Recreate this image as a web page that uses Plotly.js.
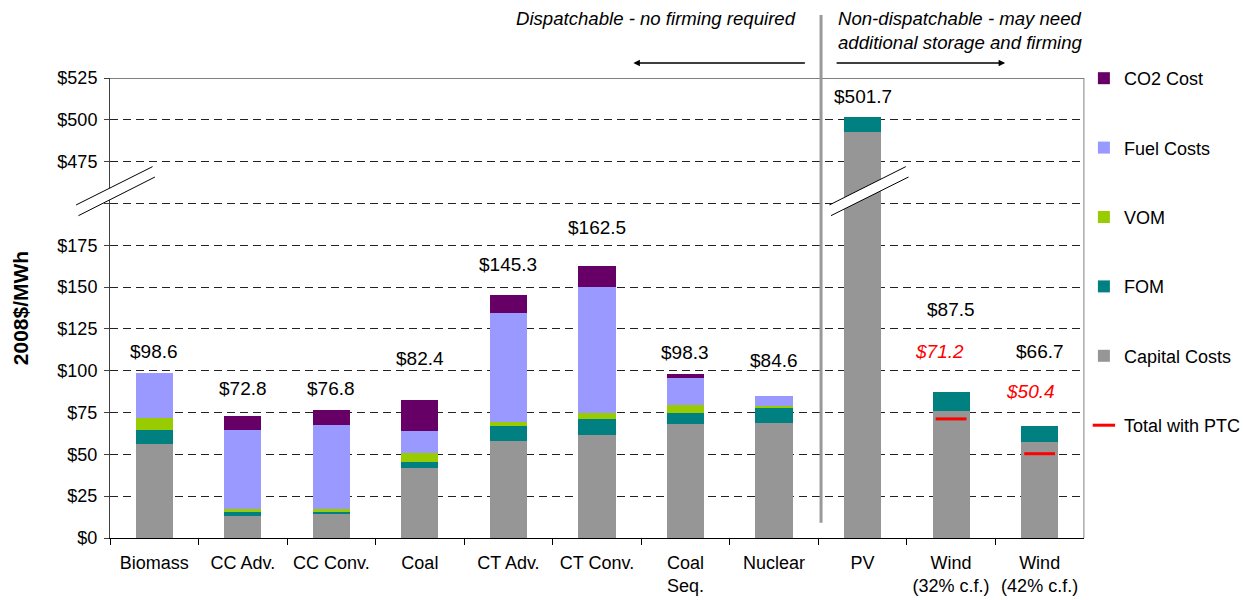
<!DOCTYPE html>
<html>
<head>
<meta charset="utf-8">
<script src="https://cdn.plot.ly/plotly-3.0.1.min.js"></script>
<style>html,body{margin:0;padding:0;background:#fff;}#chart{width:1243px;height:600px;}</style>
</head>
<body>
<div id="chart"></div>
<script>
// ---- data (2008$/MWh) ----
const categories = ["Biomass","CC Adv.","CC Conv.","Coal","CT Adv.","CT Conv.","Coal Seq.","Nuclear","PV","Wind (32% c.f.)","Wind (42% c.f.)"];
const categoryLabels = ["Biomass","CC Adv.","CC Conv.","Coal","CT Adv.","CT Conv.","Coal<br>Seq.","Nuclear","PV","Wind<br>(32% c.f.)","Wind<br>(42% c.f.)"];
const capitalCosts = [56.2, 13.4, 14.2, 42.1, 58.2, 61.6, 68.2, 68.8, 493.0, 76.0, 57.6];
const fomCosts     = [ 8.6,  2.2,  1.4,  3.5,  8.6,  9.4,  6.4,  9.1,   8.7, 11.5,  9.1];
const vomCosts     = [ 7.0,  1.9,  1.7,  5.0,  2.8,  3.6,  4.9,  1.0,   0,    0,    0  ];
const fuelCosts    = [26.8, 47.3, 50.1, 13.4, 64.8, 75.3, 16.2,  5.7,   0,    0,    0  ];
const co2Costs     = [ 0,    8.0,  9.4, 18.4, 10.9, 12.6,  2.6,  0,     0,    0,    0  ];
const totals       = [98.6, 72.8, 76.8, 82.4, 145.3, 162.5, 98.3, 84.6, 501.7, 87.5, 66.7];
const totalWithPTC = [null, null, null, null, null, null, null, null, null, 71.2, 50.4];
const yTickValues  = [0, 25, 50, 75, 100, 125, 150, 175, 475, 500, 525];

// ---- broken axis: values between 200 and 450 are cut out ----
const BREAK_LO = 200, BREAK_HI = 450, CUT = BREAK_HI - BREAK_LO;
const toDisp = v => (v == null ? null : (v >= BREAK_HI ? v - CUT : v));
const capitalDisp = capitalCosts.map(toDisp);

const FONT = "Liberation Sans, Arial, sans-serif";
const gridVals = [];
const gridText = [];
yTickValues.forEach(v => {
  if (v === 475) { gridVals.push(BREAK_LO); gridText.push(""); }
  gridVals.push(toDisp(v)); gridText.push("$" + v);
});

const barW = 0.42;
function barTrace(name, vals, color, rank) {
  return {type: "bar", name: name, x: categories, y: vals, width: barW,
    marker: {color: color, line: {width: 0}}, legendgroup: name, legendrank: rank,
    hoverinfo: "name+y"};
}
const traces = [
  barTrace("Capital Costs", capitalDisp, "#969696", 5),
  barTrace("FOM", fomCosts, "#008080", 4),
  barTrace("VOM", vomCosts, "#99CC00", 3),
  barTrace("Fuel Costs", fuelCosts, "#9999FF", 2),
  barTrace("CO2 Cost", co2Costs, "#660066", 1),
  {type: "scatter", mode: "markers", name: "Total with PTC", x: categories, y: totalWithPTC,
   marker: {symbol: "line-ew", size: 22, color: "#FF0000", line: {color: "#FF0000", width: 3}},
   legendgroup: "ptc", legendrank: 6}
];

// value labels
const labelShift = [22, 28, 21, 42, 30, 39, 21, 36, 20, 82, 75];
const annotations = categories.map((c, i) => ({
  x: c, y: toDisp(totals[i]), xref: "x", yref: "y", yanchor: "middle", yshift: labelShift[i],
  text: "$" + totals[i].toFixed(1), showarrow: false, font: {family: FONT, size: 19, color: "#000"}
}));
const ptcShift = [[-12, 67], [-9, 62]];
let k = 0;
categories.forEach((c, i) => {
  if (totalWithPTC[i] != null) {
    annotations.push({x: c, y: totalWithPTC[i], xref: "x", yref: "y", yanchor: "middle",
      xshift: ptcShift[k][0], yshift: ptcShift[k][1], showarrow: false,
      text: "<i>$" + totalWithPTC[i].toFixed(1) + "</i>", font: {family: FONT, size: 19, color: "#FF0000"}});
    k++;
  }
});
// header notes
annotations.push({xref: "paper", yref: "paper", x: 0.7062, y: 1.1304, xanchor: "right", yanchor: "middle",
  text: "<i>Dispatchable - no firming required</i>", showarrow: false, font: {family: FONT, size: 18.6, color: "#000"}});
annotations.push({xref: "paper", yref: "paper", x: 0.7451, y: 1.1043, xanchor: "left", yanchor: "middle", align: "left",
  text: "<i>Non-dispatchable - may need<br>additional storage and firming</i>", showarrow: false, font: {family: FONT, size: 18.6, color: "#000"}});
annotations.push({xref: "paper", yref: "paper", x: 0.5374, y: 1.0326, ax: 173, ay: 0, text: "",
  showarrow: true, arrowhead: 2, arrowsize: 1, arrowwidth: 1.3, arrowcolor: "#000"});
annotations.push({xref: "paper", yref: "paper", x: 0.9191, y: 1.0326, ax: -170, ay: 0, text: "",
  showarrow: true, arrowhead: 2, arrowsize: 1, arrowwidth: 1.3, arrowcolor: "#000"});

// axis-break marks
function breakMark(x0, x1, x2, x3) {
  // parallelogram: UL, UR, LR, LL (x in paper, y in axis units)
  const ys = [199.1, 222.0, 215.8, 192.7];
  return [
    {type: "path", xref: "paper", yref: "y", layer: "above",
     path: `M${x0},${ys[0]} L${x1},${ys[1]} L${x2},${ys[2]} L${x3},${ys[3]} Z`,
     fillcolor: "#FFFFFF", line: {width: 0}},
    {type: "line", xref: "paper", yref: "y", x0: x0, y0: ys[0], x1: x1, y1: ys[1], line: {color: "#000", width: 1}},
    {type: "line", xref: "paper", yref: "y", x0: x3, y0: ys[3], x1: x2, y1: ys[2], line: {color: "#000", width: 1}}
  ];
}
const shapes = [
  {type: "line", xref: "paper", yref: "y", x0: 0, x1: 1, y0: 275, y1: 275, line: {color: "#000", width: 1}},
  {type: "line", xref: "paper", yref: "y", x0: 1, x1: 1, y0: 0, y1: 275, line: {color: "#808080", width: 1}},
  ...breakMark(-0.0348, 0.0437, 0.0461, -0.0324),
  ...breakMark(0.7387, 0.8171, 0.8199, 0.7403),
  {type: "line", xref: "paper", yref: "paper", x0: 0.7301, x1: 0.7301, y0: 0.0333, y1: 1.137,
   line: {color: "#999999", width: 3}}
];

const layout = {
  width: 1243, height: 600,
  margin: {l: 110, r: 156, t: 78, b: 62},
  paper_bgcolor: "#FFFFFF", plot_bgcolor: "#FFFFFF",
  barmode: "stack", bargap: 0.58,
  font: {family: FONT, size: 18, color: "#000"},
  showlegend: true,
  legend: {xref: "container", yref: "container", x: 0.872, y: 0.9, xanchor: "left", yanchor: "top",
    traceorder: "grouped", tracegroupgap: 43, itemwidth: 30, maxheight: 560,
    font: {family: FONT, size: 18, color: "#000"}, bgcolor: "rgba(0,0,0,0)"},
  xaxis: {type: "category", categoryorder: "array", categoryarray: categories,
    range: [-0.5, categories.length - 0.5], autorange: false,
    tickvals: categories, ticktext: categoryLabels, tickangle: 0,
    showgrid: false, showline: true, linecolor: "#000", linewidth: 1,
    ticks: "outside", tickson: "boundaries", ticklen: 6, tickcolor: "#000",
    ticklabelstandoff: 8, tickfont: {family: FONT, size: 18, color: "#000"}},
  yaxis: {range: [0, 275], autorange: false, tickvals: gridVals, ticktext: gridText,
    showgrid: true, gridcolor: "#222", gridwidth: 1, griddash: "8px,5px",
    zeroline: false, showline: true, linecolor: "#404040", linewidth: 1,
    ticks: "outside", ticklen: 5, tickcolor: "#404040", ticklabelstandoff: 3,
    tickfont: {family: FONT, size: 18, color: "#000"},
    title: {text: "<b>2008$/MWh</b>", font: {family: FONT, size: 21, color: "#000"}, standoff: 23}},
  annotations: annotations,
  shapes: shapes
};

Plotly.newPlot("chart", traces, layout, {displayModeBar: false, staticPlot: true});
</script>
</body>
</html>
